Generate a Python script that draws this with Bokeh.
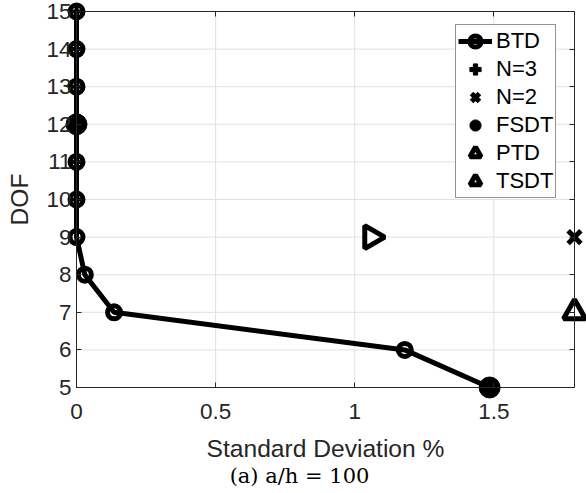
import math
from bokeh.plotting import figure
from bokeh.models import Range1d, LinearAxis, Legend, LegendItem, Label, FixedTicker
from bokeh.embed import file_html
from bokeh.resources import INLINE

# ---- data ----
btd_std = [0, 0, 0, 0, 0, 0, 0, 0.03, 0.135, 1.18, 1.485]
btd_dof = [15, 14, 13, 12, 11, 10, 9, 8, 7, 6, 5]
n3_std = [0, 0, 0, 0, 0]
n3_dof = [15, 14, 13, 11, 10]
n2_std = [1.79]
n2_dof = [9]
fsdt_std = [0, 1.485]
fsdt_dof = [12, 5]
ptd_std = [1.79]
ptd_dof = [7]
tsdt_std = [1.06]
tsdt_dof = [9]
x_ticks = [0, 0.5, 1, 1.5]
y_ticks = [5, 6, 7, 8, 9, 10, 11, 12, 13, 14, 15]
x_lim = [0, 1.79]
y_lim = [5, 15]
x_label = "Standard Deviation %"
y_label = "DOF"
caption = "(a) a/h = 100"

AX = "#262626"
FONT = "Liberation Sans"
W, H = 586, 493
# pixel box of the axes inside the page
BOX_L, BOX_R, BOX_T, BOX_B = 76, 574, 11, 387
PX_X = (BOX_R - BOX_L) / (x_lim[1] - x_lim[0])
PX_Y = (BOX_B - BOX_T) / (y_lim[1] - y_lim[0])

# the plotting frame spans the whole page so no marker is clipped
p = figure(width=W, height=H, output_backend="svg", toolbar_location=None,
           x_range=Range1d(x_lim[0] - BOX_L / PX_X, x_lim[1] + (W - BOX_R) / PX_X),
           y_range=Range1d(y_lim[0] - (H - BOX_B) / PX_Y, y_lim[1] + BOX_T / PX_Y),
           min_border_left=0, min_border_right=0, min_border_top=0, min_border_bottom=0,
           background_fill_color="white", border_fill_color="white",
           x_axis_type=None, y_axis_type=None)
p.outline_line_color = None
p.xgrid.visible = False
p.ygrid.visible = False

# grid lines drawn from the tick lists
p.segment(x0=x_ticks, y0=[y_lim[0]] * len(x_ticks), x1=x_ticks, y1=[y_lim[1]] * len(x_ticks),
          line_color="#e0e0e0", line_width=1)
p.segment(x0=[x_lim[0]] * len(y_ticks), y0=y_ticks, x1=[x_lim[1]] * len(y_ticks), y1=y_ticks,
          line_color="#e0e0e0", line_width=1)


def make_axis(ticks, loc, bounds, labels=True):
    ax = LinearAxis(ticker=FixedTicker(ticks=ticks), fixed_location=loc, bounds=bounds,
                    major_tick_in=5, major_tick_out=0, minor_tick_line_color=None,
                    axis_line_color=AX, major_tick_line_color=AX,
                    major_label_text_font=FONT, major_label_text_color=AX,
                    axis_label_text_font=FONT, axis_label_text_color=AX,
                    axis_label_text_font_style="normal")
    if labels:
        ax.major_label_text_font_size = "22.5px"
        ax.axis_label_text_font_size = "24.6px"
    else:
        ax.major_label_text_font_size = "0px"
        ax.major_label_standoff = 0
    return ax


xb = make_axis(x_ticks, y_lim[0], tuple(x_lim))
xb.major_label_standoff = 16
xb.axis_label = x_label
xb.axis_label_standoff = 13
xb.major_label_overrides = {0: "0", 0.5: "0.5", 1: "1", 1.5: "1.5"}
yl = make_axis(y_ticks, x_lim[0], tuple(y_lim))
yl.major_label_standoff = 5
yl.axis_label = y_label
yl.axis_label_standoff = 10
xt = make_axis(x_ticks, y_lim[1], tuple(x_lim), labels=False)
yr = make_axis(y_ticks, x_lim[1], tuple(y_lim), labels=False)
p.add_layout(xb, "below")
p.add_layout(yl, "left")
p.add_layout(xt, "above")
p.add_layout(yr, "right")

# ---- glyphs ----
btd_line = p.line(btd_std, btd_dof, line_color="black", line_width=5)
btd_mk = p.scatter(btd_std, btd_dof, marker="circle", size=13, fill_color=None,
                   line_color="black", line_width=5)
n3 = p.scatter(n3_std, n3_dof, marker="plus", size=8, fill_color="black",
               line_color="black", line_width=1)
n2 = p.scatter(n2_std, n2_dof, marker="x", size=18, line_color="black", line_width=5)
fsdt = p.scatter(fsdt_std, fsdt_dof, marker="circle", size=21, fill_color="black",
                 line_color="black", line_width=1)
ptd = p.scatter(ptd_std, ptd_dof, marker="triangle", size=22, fill_color="white",
                line_color="black", line_width=5)
tsdt = p.scatter(tsdt_std, tsdt_dof, marker="triangle", angle=-math.pi / 2,
                 size=23, fill_color="white", line_color="black", line_width=5)

legend = Legend(items=[
    LegendItem(label="BTD", renderers=[btd_line, btd_mk]),
    LegendItem(label="N=3", renderers=[n3]),
    LegendItem(label="N=2", renderers=[n2]),
    LegendItem(label="FSDT", renderers=[fsdt]),
    LegendItem(label="PTD", renderers=[ptd]),
    LegendItem(label="TSDT", renderers=[tsdt]),
], location=(455, H - 198))
legend.label_text_font = FONT
legend.label_text_font_size = "22px"
legend.label_text_color = "black"
legend.glyph_width = 34
legend.glyph_height = 28
legend.label_height = 28
legend.spacing = 0
legend.padding = 2
legend.margin = 0
legend.label_standoff = 4
legend.border_line_color = AX
legend.border_line_width = 1
legend.background_fill_color = "white"
legend.background_fill_alpha = 1
p.add_layout(legend, "center")

cap = Label(x=299, y=H - 475, x_units="screen", y_units="screen", text=caption,
            text_font="DejaVu Serif", text_font_size="21px", text_color="black",
            text_align="center", text_baseline="middle")
p.add_layout(cap)

open("out.html", "w").write(file_html(p, INLINE))
